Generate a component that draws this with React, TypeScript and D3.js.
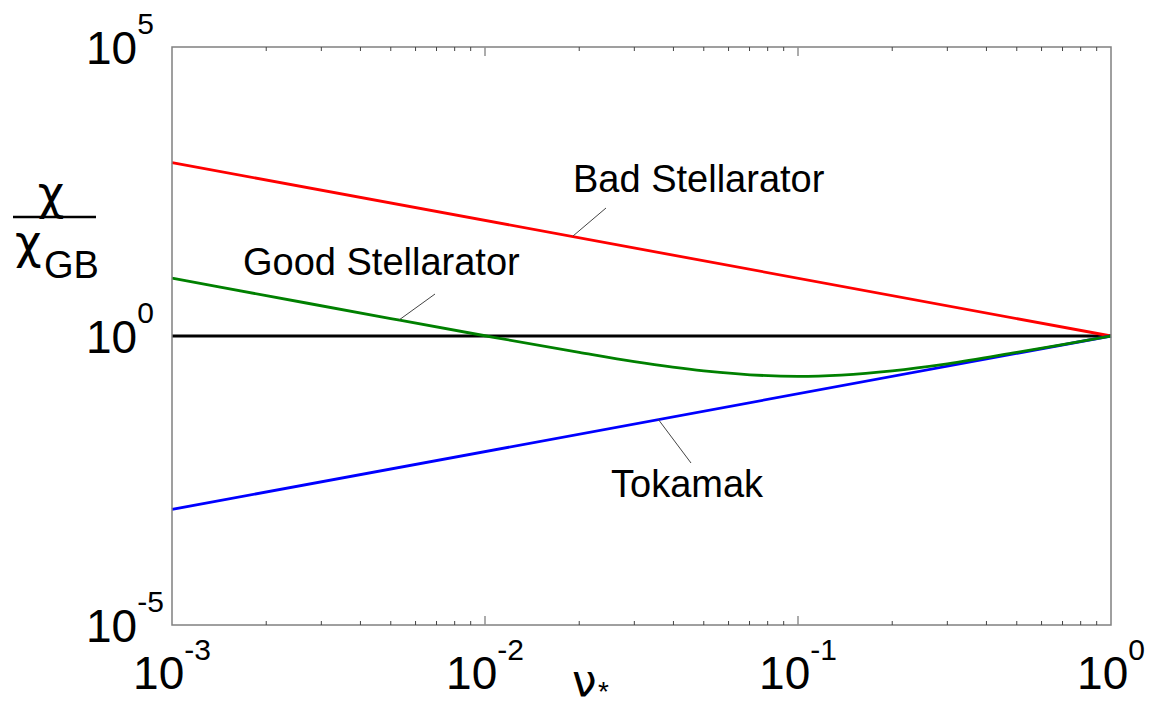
import React from 'react';
import * as d3 from 'd3';

// collisionality nu_* on the x axis, chi / chi_GB on the y axis
const badStellarator = [
  { nu: 1e-3, chi: 1000 },
  { nu: 1, chi: 1 },
];
const tokamak = [
  { nu: 1e-3, chi: 1e-3 },
  { nu: 1, chi: 1 },
];
const reference = [
  { nu: 1e-3, chi: 1 },
  { nu: 1, chi: 1 },
];
const goodStellarator = [
  { nu: 1e-3, chi: 10 },
  { nu: 2e-3, chi: 5.0 },
  { nu: 5e-3, chi: 2.0 },
  { nu: 1e-2, chi: 1.01 },
  { nu: 2e-2, chi: 0.52 },
  { nu: 3e-2, chi: 0.36 },
  { nu: 5e-2, chi: 0.25 },
  { nu: 0.1, chi: 0.2 },
  { nu: 0.2, chi: 0.25 },
  { nu: 0.3, chi: 0.33 },
  { nu: 0.5, chi: 0.52 },
  { nu: 0.7, chi: 0.71 },
  { nu: 1, chi: 1.0 },
];

const xDecades = [-3, -2, -1, 0];
const yDecades = [5, 0, -5];

const font = '"Liberation Sans", Arial, sans-serif';
const greek = '"DejaVu Sans", sans-serif';

const App = () => {
  const margin = { left: 172, right: 1111, top: 47, bottom: 625 };

  const x = d3.scaleLog().domain([1e-3, 1]).range([margin.left, margin.right]);
  const y = d3.scaleLog().domain([1e-5, 1e5]).range([margin.bottom, margin.top]);

  const line = d3
    .line<{ nu: number; chi: number }>()
    .x(d => x(d.nu))
    .y(d => y(d.chi));
  const smooth = d3
    .line<{ nu: number; chi: number }>()
    .x(d => x(d.nu))
    .y(d => y(d.chi))
    .curve(d3.curveMonotoneX);

  // minor ticks 2..9 in each decade
  const minors: number[] = [];
  xDecades.slice(0, -1).forEach(e => {
    for (let k = 2; k < 10; k++) minors.push(k * Math.pow(10, e));
  });
  const majors = xDecades.slice(1, -1).map(e => Math.pow(10, e));

  return (
    <svg
      width={1151}
      height={708}
      style={{ position: 'absolute', left: 0, top: 0, background: '#fff' }}
      fontFamily={font}
    >
      {/* data lines */}
      <path d={line(reference) || ''} fill="none" stroke="#000" strokeWidth={3} />
      <path d={line(badStellarator) || ''} fill="none" stroke="#ff0000" strokeWidth={2.8} />
      <path d={line(tokamak) || ''} fill="none" stroke="#0000ff" strokeWidth={2.8} />
      <path d={smooth(goodStellarator) || ''} fill="none" stroke="#008000" strokeWidth={2.8} />

      {/* frame */}
      <rect
        x={margin.left}
        y={margin.top}
        width={margin.right - margin.left}
        height={margin.bottom - margin.top}
        fill="none"
        stroke="#808080"
        strokeWidth={1.5}
      />

      {/* x ticks, inside, top and bottom */}
      {minors.map(v => (
        <g key={'m' + v} stroke="#444" strokeWidth={1}>
          <line x1={x(v)} x2={x(v)} y1={margin.bottom} y2={margin.bottom - 4} />
          <line x1={x(v)} x2={x(v)} y1={margin.top} y2={margin.top + 4} />
        </g>
      ))}
      {majors.map(v => (
        <g key={'M' + v} stroke="#909090" strokeWidth={1.5}>
          <line x1={x(v)} x2={x(v)} y1={margin.bottom} y2={margin.bottom - 9} />
          <line x1={x(v)} x2={x(v)} y1={margin.top} y2={margin.top + 9} />
        </g>
      ))}

      {/* x tick labels */}
      {xDecades.map(e => (
        <text key={'xl' + e} x={x(Math.pow(10, e))} y={689} textAnchor="middle" fontSize={46}>
          <tspan>10</tspan>
          <tspan dy={-29} fontSize={30}>{String(e)}</tspan>
        </text>
      ))}

      {/* y tick labels */}
      {yDecades.map(e => (
        <text key={'yl' + e} x={86} y={y(Math.pow(10, e)) + 17} fontSize={46}>
          <tspan>10</tspan>
          <tspan dy={-30} fontSize={30}>{String(e)}</tspan>
        </text>
      ))}

      {/* x axis title */}
      <text x={572} y={696} fontSize={44} fontFamily={greek}>ν</text>
      <text x={598} y={701} fontSize={28}>*</text>

      {/* y axis title as a fraction */}
      <text x={51} y={209} textAnchor="middle" fontSize={46} fontFamily={greek}>χ</text>
      <line x1={13} x2={96} y1={217} y2={217} stroke="#000" strokeWidth={2.5} />
      <text x={15} y={258} fontSize={46} fontFamily={greek}>χ</text>
      <text x={44} y={278} fontSize={38}>GB</text>

      {/* annotations */}
      <line x1={606} y1={208} x2={573} y2={236} stroke="#444" strokeWidth={1} />
      <text x={573} y={192} fontSize={38}>Bad Stellarator</text>

      <line x1={435} y1={294} x2={399} y2={320} stroke="#444" strokeWidth={1} />
      <text x={243} y={275} fontSize={38}>Good Stellarator</text>

      <line x1={658} y1={419} x2={691} y2={463} stroke="#444" strokeWidth={1} />
      <text x={611} y={497} fontSize={38}>Tokamak</text>
    </svg>
  );
};

export default App;
